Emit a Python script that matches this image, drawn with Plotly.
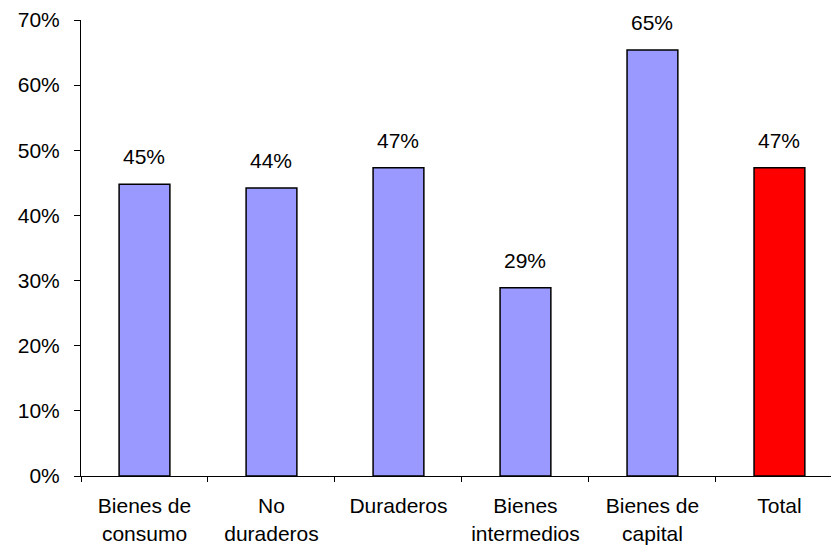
import plotly.graph_objects as go

categories = ["Bienes de<br>consumo", "No<br>duraderos", "Duraderos", "Bienes<br>intermedios", "Bienes de<br>capital", "Total"]
values = [44.8, 44.2, 47.3, 28.9, 65.4, 47.3]
labels = ["45%", "44%", "47%", "29%", "65%", "47%"]
colors = ["#9999FF", "#9999FF", "#9999FF", "#9999FF", "#9999FF", "#FF0000"]
y_ticks = [0, 10, 20, 30, 40, 50, 60, 70]
y_ticklabels = ["0%", "10%", "20%", "30%", "40%", "50%", "60%", "70%"]

FONT = dict(family="Liberation Sans, Arial, sans-serif", size=21, color="black")

fig = go.Figure()
fig.add_trace(go.Bar(
    x=categories, y=values, width=0.4,
    marker=dict(color=colors, line=dict(color="black", width=1.5)),
    hoverinfo="skip",
))

for c, v, t in zip(categories, values, labels):
    fig.add_annotation(x=c, y=v, text=t, showarrow=False, yanchor="bottom",
                       yshift=14, font=FONT)

# page body has an 8px margin, so the figure is offset by 8px in the window
fig.update_layout(
    width=839, height=547,
    margin=dict(l=73, r=8, t=12, b=79),
    plot_bgcolor="white", paper_bgcolor="white",
    font=FONT, showlegend=False,
    bargap=0.6,
)
fig.update_xaxes(
    type="category", range=[-0.5, 5.469], automargin=False,
    showline=True, linecolor="black", linewidth=1,
    ticks="outside", tickson="boundaries", ticklen=5, tickcolor="black",
    showgrid=False, tickfont=FONT, ticklabelstandoff=11,
)
fig.update_yaxes(
    range=[0, 70], tickvals=y_ticks, ticktext=y_ticklabels, automargin=False,
    showline=True, linecolor="black", linewidth=1,
    ticks="outside", ticklen=6, tickcolor="black",
    showgrid=False, zeroline=False, tickfont=FONT, ticklabelstandoff=10,
)

fig.write_html("out.html")
